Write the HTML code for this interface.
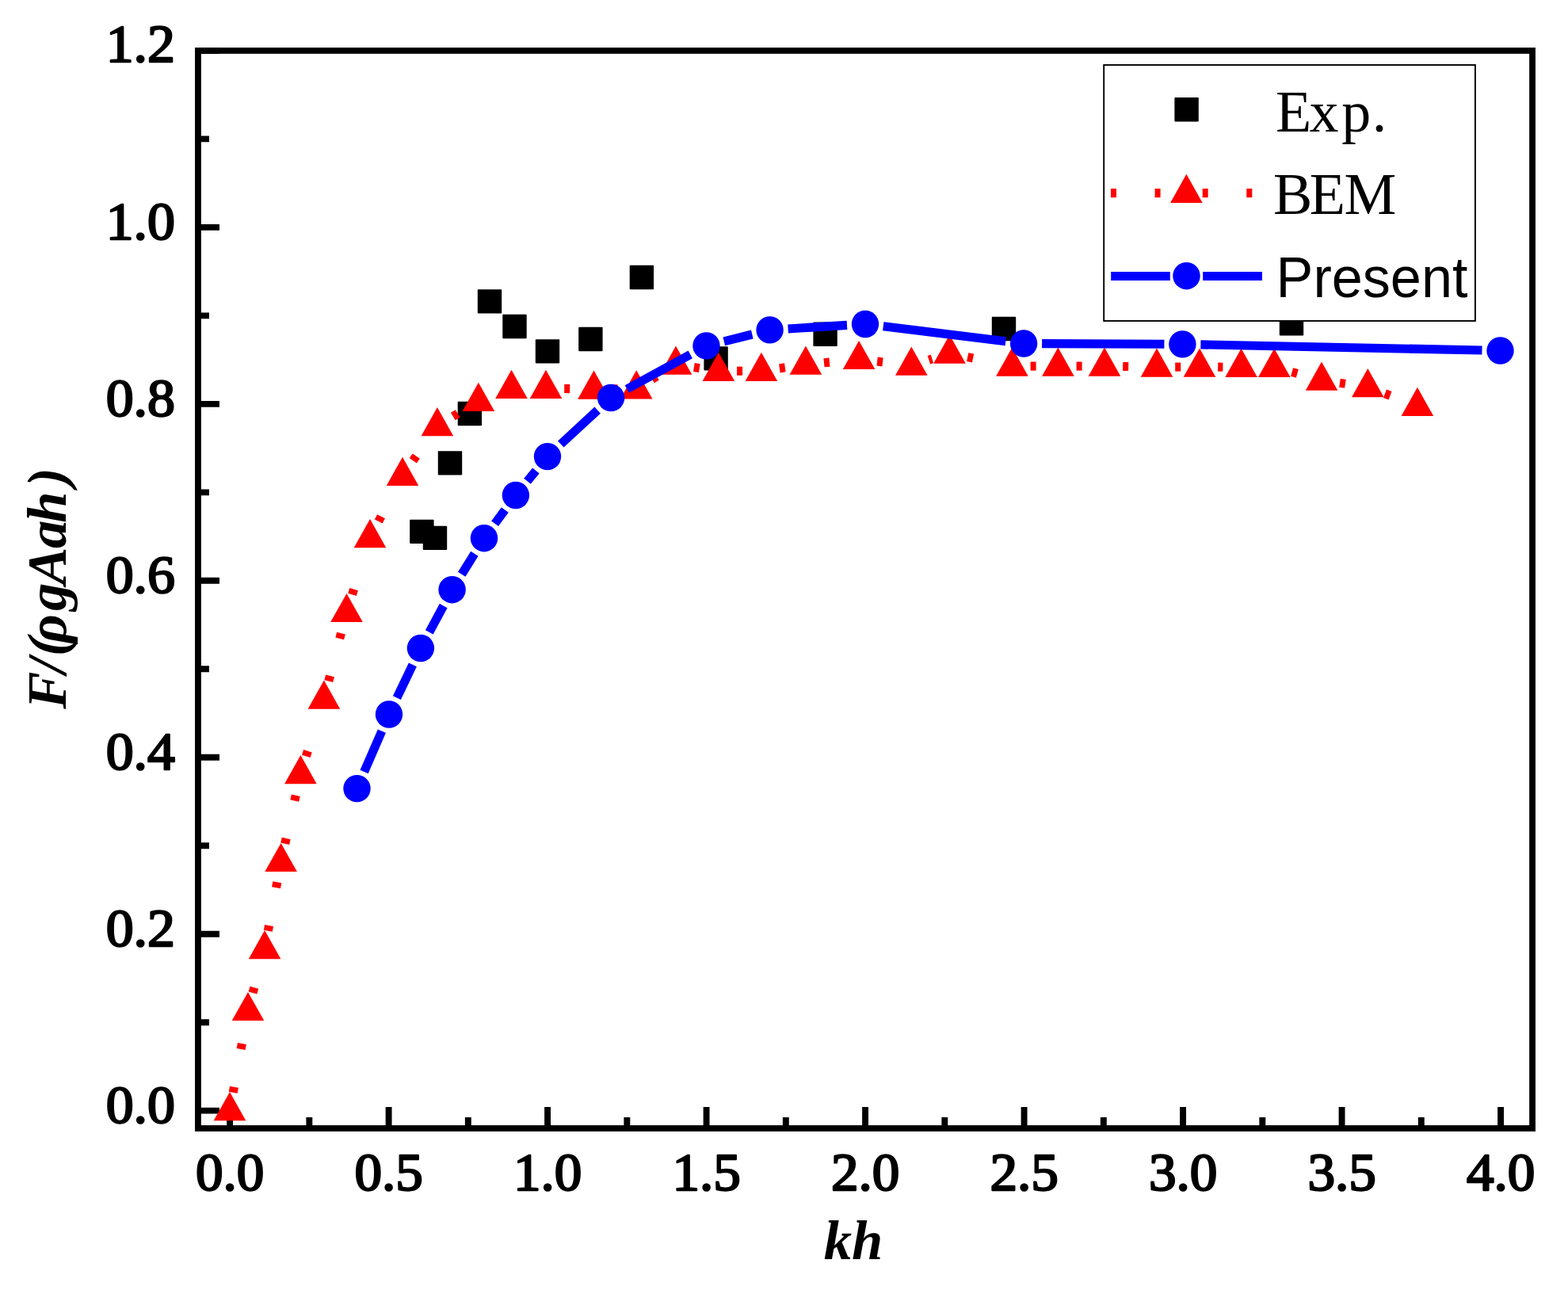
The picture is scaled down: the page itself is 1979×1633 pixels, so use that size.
<!DOCTYPE html>
<html><head><meta charset="utf-8"><title>Chart</title>
<style>html,body{margin:0;padding:0;background:#fff}svg{display:block}</style>
</head><body>
<svg width="1979" height="1633" viewBox="0 0 1979 1633">
<rect x="0" y="0" width="1979" height="1633" fill="#fff"/>
<path d="M290.10 1423.95 V1396.95 M490.60 1423.95 V1396.95 M691.09 1423.95 V1396.95 M891.59 1423.95 V1396.95 M1092.08 1423.95 V1396.95 M1292.58 1423.95 V1396.95 M1493.07 1423.95 V1396.95 M1693.57 1423.95 V1396.95 M1894.06 1423.95 V1396.95 M390.35 1423.95 V1409.95 M590.84 1423.95 V1409.95 M791.34 1423.95 V1409.95 M991.83 1423.95 V1409.95 M1192.33 1423.95 V1409.95 M1392.82 1423.95 V1409.95 M1593.32 1423.95 V1409.95 M1793.81 1423.95 V1409.95 M249.95 1401.65 H276.95 M249.95 1178.70 H276.95 M249.95 955.75 H276.95 M249.95 732.80 H276.95 M249.95 509.85 H276.95 M249.95 286.90 H276.95 M249.95 63.95 H276.95 M249.95 1290.18 H263.95 M249.95 1067.22 H263.95 M249.95 844.28 H263.95 M249.95 621.33 H263.95 M249.95 398.38 H263.95 M249.95 175.42 H263.95" stroke="#000" stroke-width="7.9" fill="none"/>
<rect x="517.2" y="655.7" width="30.4" height="30.4" rx="1" fill="#000"/>
<rect x="533.8" y="663.7" width="30.4" height="30.4" rx="1" fill="#000"/>
<rect x="552.8" y="569.2" width="30.4" height="30.4" rx="1" fill="#000"/>
<rect x="577.7" y="506.8" width="30.4" height="30.4" rx="1" fill="#000"/>
<rect x="602.8" y="365.2" width="30.4" height="30.4" rx="1" fill="#000"/>
<rect x="634.3" y="396.8" width="30.4" height="30.4" rx="1" fill="#000"/>
<rect x="675.8" y="428.2" width="30.4" height="30.4" rx="1" fill="#000"/>
<rect x="730.2" y="412.8" width="30.4" height="30.4" rx="1" fill="#000"/>
<rect x="794.7" y="334.8" width="30.4" height="30.4" rx="1" fill="#000"/>
<rect x="888.4" y="437.2" width="30.4" height="30.4" rx="1" fill="#000"/>
<rect x="1026.4" y="406.6" width="30.4" height="30.4" rx="1" fill="#000"/>
<rect x="1251.8" y="399.8" width="30.4" height="30.4" rx="1" fill="#000"/>
<rect x="1614.8" y="393.1" width="30.4" height="30.4" rx="1" fill="#000"/>
<line x1="294.2" y1="1378.7" x2="308.8" y2="1298.2" stroke="#f00" stroke-width="11.1" stroke-dasharray="7 48.6"/>
<line x1="319.0" y1="1253.0" x2="328.0" y2="1220.0" stroke="#f00" stroke-width="11.1" stroke-dasharray="7 48.6"/>
<line x1="338.3" y1="1174.8" x2="350.4" y2="1110.2" stroke="#f00" stroke-width="11.1" stroke-dasharray="7 48.6"/>
<line x1="359.7" y1="1064.8" x2="374.3" y2="999.1" stroke="#f00" stroke-width="11.1" stroke-dasharray="7 48.6"/>
<line x1="386.3" y1="954.4" x2="402.0" y2="904.2" stroke="#f00" stroke-width="11.1" stroke-dasharray="7 48.6"/>
<line x1="414.8" y1="859.7" x2="431.6" y2="794.8" stroke="#f00" stroke-width="11.1" stroke-dasharray="7 48.6"/>
<line x1="444.5" y1="750.3" x2="460.0" y2="700.6" stroke="#f00" stroke-width="11.1" stroke-dasharray="7 48.6"/>
<line x1="477.8" y1="658.0" x2="497.2" y2="620.8" stroke="#f00" stroke-width="11.1" stroke-dasharray="7 48.6"/>
<line x1="521.3" y1="581.3" x2="538.6" y2="556.5" stroke="#f00" stroke-width="11.1" stroke-dasharray="7 48.6"/>
<line x1="571.8" y1="525.6" x2="584.0" y2="518.2" stroke="#f00" stroke-width="11.1" stroke-dasharray="7 48.6"/>
<line x1="712.2" y1="490.5" x2="726.3" y2="490.7" stroke="#f00" stroke-width="11.1" stroke-dasharray="7 48.6"/>
<line x1="772.7" y1="490.9" x2="780.0" y2="490.9" stroke="#f00" stroke-width="11.1" stroke-dasharray="7 48.6"/>
<line x1="822.9" y1="478.6" x2="833.3" y2="472.3" stroke="#f00" stroke-width="11.1" stroke-dasharray="7 48.6"/>
<line x1="875.9" y1="463.5" x2="884.0" y2="464.8" stroke="#f00" stroke-width="11.1" stroke-dasharray="7 48.6"/>
<line x1="930.1" y1="468.2" x2="937.7" y2="468.2" stroke="#f00" stroke-width="11.1" stroke-dasharray="7 48.6"/>
<line x1="983.9" y1="464.9" x2="993.9" y2="463.4" stroke="#f00" stroke-width="11.1" stroke-dasharray="7 48.6"/>
<line x1="1040.0" y1="457.8" x2="1061.0" y2="455.7" stroke="#f00" stroke-width="11.1" stroke-dasharray="7 48.6"/>
<line x1="1107.1" y1="456.1" x2="1127.3" y2="458.4" stroke="#f00" stroke-width="11.1" stroke-dasharray="7 48.6"/>
<line x1="1172.4" y1="454.2" x2="1176.4" y2="452.9" stroke="#f00" stroke-width="11.1" stroke-dasharray="7 48.6"/>
<line x1="1221.2" y1="450.6" x2="1254.7" y2="457.5" stroke="#f00" stroke-width="11.1" stroke-dasharray="7 48.6"/>
<line x1="1300.6" y1="462.1" x2="1312.2" y2="462.1" stroke="#f00" stroke-width="11.1" stroke-dasharray="7 48.6"/>
<line x1="1358.6" y1="462.1" x2="1370.8" y2="462.1" stroke="#f00" stroke-width="11.1" stroke-dasharray="7 48.6"/>
<line x1="1417.2" y1="462.5" x2="1436.8" y2="462.7" stroke="#f00" stroke-width="11.1" stroke-dasharray="7 48.6"/>
<line x1="1483.2" y1="463.1" x2="1490.8" y2="463.1" stroke="#f00" stroke-width="11.1" stroke-dasharray="7 48.6"/>
<line x1="1537.2" y1="463.1" x2="1543.4" y2="463.2" stroke="#f00" stroke-width="11.1" stroke-dasharray="7 48.6"/>
<line x1="1630.6" y1="469.5" x2="1645.7" y2="473.7" stroke="#f00" stroke-width="11.1" stroke-dasharray="7 48.6"/>
<line x1="1691.0" y1="483.3" x2="1703.3" y2="485.2" stroke="#f00" stroke-width="11.1" stroke-dasharray="7 48.6"/>
<line x1="1748.0" y1="496.7" x2="1767.2" y2="504.1" stroke="#f00" stroke-width="11.1" stroke-dasharray="7 48.6"/>
<path d="M290.0 1378.0 L310.3 1414.2 H269.7 Z M313.0 1251.9 L333.3 1288.1 H292.7 Z M334.1 1174.1 L354.4 1210.3 H313.8 Z M354.6 1063.9 L374.9 1100.1 H334.3 Z M379.4 953.0 L399.7 989.2 H359.1 Z M408.9 858.6 L429.2 894.8 H388.6 Z M437.5 748.9 L457.8 785.1 H417.2 Z M467.0 655.0 L487.3 691.2 H446.7 Z M508.0 576.8 L528.3 613.0 H487.7 Z M551.9 514.0 L572.2 550.2 H531.6 Z M603.9 482.8 L624.2 519.0 H583.6 Z M645.5 466.7 L665.8 502.9 H625.2 Z M689.0 466.7 L709.3 502.9 H668.7 Z M749.5 467.5 L769.8 503.7 H729.2 Z M803.2 467.3 L823.5 503.5 H782.9 Z M853.0 436.6 L873.3 472.8 H832.7 Z M906.9 444.7 L927.2 480.9 H886.6 Z M960.9 444.7 L981.2 480.9 H940.6 Z M1016.9 436.6 L1037.2 472.8 H996.6 Z M1084.1 429.9 L1104.4 466.1 H1063.8 Z M1150.3 437.6 L1170.6 473.8 H1130.0 Z M1198.5 422.5 L1218.8 458.7 H1178.2 Z M1277.4 438.6 L1297.7 474.8 H1257.1 Z M1335.4 438.6 L1355.7 474.8 H1315.1 Z M1394.0 438.6 L1414.3 474.8 H1373.7 Z M1460.0 439.6 L1480.3 475.8 H1439.7 Z M1514.0 439.6 L1534.3 475.8 H1493.7 Z M1566.6 439.7 L1586.9 475.9 H1546.3 Z M1608.3 439.7 L1628.6 475.9 H1588.0 Z M1668.0 456.5 L1688.3 492.7 H1647.8 Z M1726.3 465.0 L1746.6 501.2 H1706.0 Z M1788.9 488.8 L1809.2 525.0 H1768.6 Z" fill="#f00"/>
<line x1="459.6" y1="974.0" x2="481.9" y2="922.6" stroke="#00f" stroke-width="11.1"/>
<line x1="500.9" y1="880.7" x2="520.9" y2="838.8" stroke="#00f" stroke-width="11.1"/>
<line x1="541.8" y1="797.8" x2="559.7" y2="764.5" stroke="#00f" stroke-width="11.1"/>
<line x1="582.7" y1="724.7" x2="598.9" y2="698.7" stroke="#00f" stroke-width="11.1"/>
<line x1="624.6" y1="660.7" x2="637.3" y2="643.5" stroke="#00f" stroke-width="11.1"/>
<line x1="665.5" y1="607.2" x2="676.4" y2="593.9" stroke="#00f" stroke-width="11.1"/>
<line x1="707.8" y1="560.5" x2="754.2" y2="517.6" stroke="#00f" stroke-width="11.1"/>
<line x1="791.3" y1="491.0" x2="871.3" y2="447.4" stroke="#00f" stroke-width="11.1"/>
<line x1="913.8" y1="430.8" x2="949.3" y2="422.0" stroke="#00f" stroke-width="11.1"/>
<line x1="994.6" y1="415.0" x2="1069.0" y2="410.4" stroke="#00f" stroke-width="11.1"/>
<line x1="1114.8" y1="411.8" x2="1269.3" y2="430.7" stroke="#00f" stroke-width="11.1"/>
<line x1="1315.1" y1="433.6" x2="1469.4" y2="434.3" stroke="#00f" stroke-width="11.1"/>
<line x1="1515.4" y1="434.9" x2="1870.5" y2="442.0" stroke="#00f" stroke-width="11.1"/>
<circle cx="450.5" cy="995.1" r="17.2" fill="#00f"/>
<circle cx="491.0" cy="901.5" r="17.2" fill="#00f"/>
<circle cx="530.9" cy="818.0" r="17.2" fill="#00f"/>
<circle cx="570.6" cy="744.2" r="17.2" fill="#00f"/>
<circle cx="611.0" cy="679.2" r="17.2" fill="#00f"/>
<circle cx="650.9" cy="625.0" r="17.2" fill="#00f"/>
<circle cx="691.0" cy="576.1" r="17.2" fill="#00f"/>
<circle cx="771.1" cy="502.0" r="17.2" fill="#00f"/>
<circle cx="891.5" cy="436.4" r="17.2" fill="#00f"/>
<circle cx="971.6" cy="416.4" r="17.2" fill="#00f"/>
<circle cx="1092.0" cy="409.0" r="17.2" fill="#00f"/>
<circle cx="1292.1" cy="433.5" r="17.2" fill="#00f"/>
<circle cx="1492.4" cy="434.4" r="17.2" fill="#00f"/>
<circle cx="1893.5" cy="442.5" r="17.2" fill="#00f"/>
<rect x="249.95" y="63.95" width="1684.10" height="1360.00" fill="none" stroke="#000" stroke-width="7.8"/>
<rect x="1393.2" y="82" width="468.7" height="323" fill="#fff" stroke="#000" stroke-width="1.9"/>
<rect x="1482.4" y="123.1" width="30.4" height="30.4" rx="1" fill="#000"/>
<path d="M1402 243.6 H1476.8 M1517.7 243.6 H1593" stroke="#f00" stroke-width="11.1" stroke-dasharray="7 48.6" fill="none"/>
<path d="M1497.4 219.8 L1517.7 256.0 H1477.1 Z" fill="#f00"/>
<path d="M1402.2 348.5 H1476.8 M1518.2 348.5 H1593" stroke="#00f" stroke-width="11.1" fill="none"/>
<circle cx="1497.5" cy="348.2" r="17.2" fill="#00f"/>
<text id="lg1" x="1610 1652.6 1693.2 1731.8" y="165.5" font-family="'Liberation Serif', serif" font-size="74">Exp.</text>
<text id="lg2" x="1606.9 1652.8 1696.6" y="269.7" font-family="'Liberation Serif', serif" font-size="74">BEM</text>
<text id="lg3" x="1610.6" y="374.9" font-family="'Liberation Sans', sans-serif" font-size="72.3" textLength="241.8" lengthAdjust="spacingAndGlyphs">Present</text>
<text class="yt" x="221" y="1416.5" text-anchor="end" textLength="87.3" lengthAdjust="spacingAndGlyphs" font-family="'Liberation Serif', serif" font-size="68.2" stroke="#000" stroke-width="2.4" stroke-linejoin="round">0.0</text>
<text class="yt" x="221" y="1193.5" text-anchor="end" textLength="87.3" lengthAdjust="spacingAndGlyphs" font-family="'Liberation Serif', serif" font-size="68.2" stroke="#000" stroke-width="2.4" stroke-linejoin="round">0.2</text>
<text class="yt" x="221" y="970.5" text-anchor="end" textLength="87.3" lengthAdjust="spacingAndGlyphs" font-family="'Liberation Serif', serif" font-size="68.2" stroke="#000" stroke-width="2.4" stroke-linejoin="round">0.4</text>
<text class="yt" x="221" y="747.6" text-anchor="end" textLength="87.3" lengthAdjust="spacingAndGlyphs" font-family="'Liberation Serif', serif" font-size="68.2" stroke="#000" stroke-width="2.4" stroke-linejoin="round">0.6</text>
<text class="yt" x="221" y="524.6" text-anchor="end" textLength="87.3" lengthAdjust="spacingAndGlyphs" font-family="'Liberation Serif', serif" font-size="68.2" stroke="#000" stroke-width="2.4" stroke-linejoin="round">0.8</text>
<text class="yt" x="221" y="301.7" text-anchor="end" textLength="87.3" lengthAdjust="spacingAndGlyphs" font-family="'Liberation Serif', serif" font-size="68.2" stroke="#000" stroke-width="2.4" stroke-linejoin="round">1.0</text>
<text class="yt" x="221" y="77.5" text-anchor="end" textLength="87.3" lengthAdjust="spacingAndGlyphs" font-family="'Liberation Serif', serif" font-size="68.2" stroke="#000" stroke-width="2.4" stroke-linejoin="round">1.2</text>
<text class="xt" x="290.2" y="1502.2" text-anchor="middle" textLength="86.5" lengthAdjust="spacingAndGlyphs" font-family="'Liberation Serif', serif" font-size="68.2" stroke="#000" stroke-width="2.4" stroke-linejoin="round">0.0</text>
<text class="xt" x="490.7" y="1502.2" text-anchor="middle" textLength="86.5" lengthAdjust="spacingAndGlyphs" font-family="'Liberation Serif', serif" font-size="68.2" stroke="#000" stroke-width="2.4" stroke-linejoin="round">0.5</text>
<text class="xt" x="691.2" y="1502.2" text-anchor="middle" textLength="86.5" lengthAdjust="spacingAndGlyphs" font-family="'Liberation Serif', serif" font-size="68.2" stroke="#000" stroke-width="2.4" stroke-linejoin="round">1.0</text>
<text class="xt" x="891.7" y="1502.2" text-anchor="middle" textLength="86.5" lengthAdjust="spacingAndGlyphs" font-family="'Liberation Serif', serif" font-size="68.2" stroke="#000" stroke-width="2.4" stroke-linejoin="round">1.5</text>
<text class="xt" x="1092.2" y="1502.2" text-anchor="middle" textLength="86.5" lengthAdjust="spacingAndGlyphs" font-family="'Liberation Serif', serif" font-size="68.2" stroke="#000" stroke-width="2.4" stroke-linejoin="round">2.0</text>
<text class="xt" x="1292.7" y="1502.2" text-anchor="middle" textLength="86.5" lengthAdjust="spacingAndGlyphs" font-family="'Liberation Serif', serif" font-size="68.2" stroke="#000" stroke-width="2.4" stroke-linejoin="round">2.5</text>
<text class="xt" x="1493.2" y="1502.2" text-anchor="middle" textLength="86.5" lengthAdjust="spacingAndGlyphs" font-family="'Liberation Serif', serif" font-size="68.2" stroke="#000" stroke-width="2.4" stroke-linejoin="round">3.0</text>
<text class="xt" x="1693.7" y="1502.2" text-anchor="middle" textLength="86.5" lengthAdjust="spacingAndGlyphs" font-family="'Liberation Serif', serif" font-size="68.2" stroke="#000" stroke-width="2.4" stroke-linejoin="round">3.5</text>
<text class="xt" x="1894.2" y="1502.2" text-anchor="middle" textLength="86.5" lengthAdjust="spacingAndGlyphs" font-family="'Liberation Serif', serif" font-size="68.2" stroke="#000" stroke-width="2.4" stroke-linejoin="round">4.0</text>
<text id="xl" x="1077" y="1589.3" text-anchor="middle" font-family="'Liberation Serif', serif" font-weight="bold" font-style="italic" font-size="70.7">kh</text>
<text id="yl" transform="translate(82.6 745) rotate(-90)" text-anchor="middle" dx="2.5 -2.5 2.5 -7 4 -2 -1.5 -3 6.5" font-family="'Liberation Serif', serif" font-weight="bold" font-style="italic" font-size="70.7">F/(ρgAah)</text>
</svg>
</body></html>
